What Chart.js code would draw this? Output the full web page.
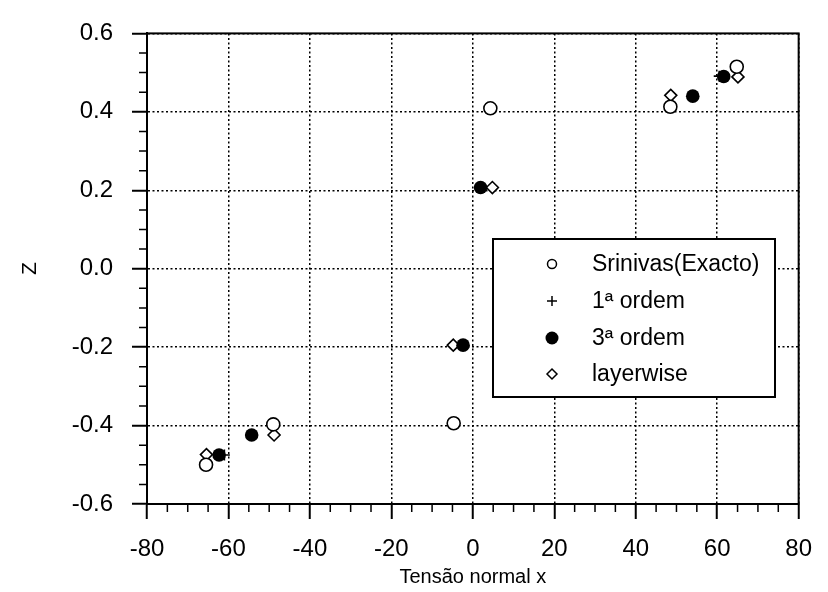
<!DOCTYPE html>
<html>
<head>
<meta charset="utf-8">
<script src="https://cdn.jsdelivr.net/npm/chart.js@4.4.0/dist/chart.umd.min.js"></script>
<style>
  html, body { margin: 0; padding: 0; background: #fff; }
  #wrap { width: 828px; height: 592px; }
</style>
</head>
<body>
<div id="wrap"><canvas id="myChart" width="828" height="592"></canvas></div>
<script>
// Values (x = tensão normal, y = Z)
const srinivasX = [-65.5, -49, -4.7, 4.3, 48.5, 64.8];
const srinivasY = [-0.50, -0.397, -0.394, 0.409, 0.413, 0.515];
const ordem1X = [-61, -54.3, -2.4, 1.9, 54, 60.5];
const ordem1Y = [-0.475, -0.424, -0.195, 0.207, 0.44, 0.491];
const ordem3X = [-62.3, -54.3, -2.4, 1.9, 54, 61.6];
const ordem3Y = [-0.475, -0.424, -0.195, 0.207, 0.44, 0.49];
const layerX = [-65.4, -48.8, -4.8, 4.8, 48.6, 65.1];
const layerY = [-0.474, -0.424, -0.195, 0.207, 0.442, 0.489];

const xTicks = [-80, -60, -40, -20, 0, 20, 40, 60, 80];
const yTicks = [-0.6, -0.4, -0.2, 0.0, 0.2, 0.4, 0.6];

const labels = ['Srinivas(Exacto)', '1ª ordem', '3ª ordem', 'layerwise'];

const FONT = '"Liberation Sans", Arial, Helvetica, sans-serif';

function pts(xs, ys) {
  return xs.map((x, i) => ({ x: x, y: ys[i] }));
}

// frame, minor ticks and the boxed legend
const extras = {
  id: 'extras',
  afterDraw(chart) {
    const ctx = chart.ctx;
    const a = chart.chartArea;
    const xs = chart.scales.x, ys = chart.scales.y;
    ctx.save();
    ctx.strokeStyle = '#000';
    ctx.lineWidth = 2;
    ctx.strokeRect(a.left, a.top, a.right - a.left, a.bottom - a.top);

    ctx.lineWidth = 1.5;
    ctx.beginPath();
    for (let v = -75; v < 80; v += 5) {
      if (v % 20 === 0) continue;
      const px = xs.getPixelForValue(v);
      ctx.moveTo(px, a.bottom);
      ctx.lineTo(px, a.bottom + 8);
    }
    for (let k = -11; k <= 11; k++) {
      if (k % 4 === 0) continue;
      const py = ys.getPixelForValue(k * 0.05);
      ctx.moveTo(a.left - 8, py);
      ctx.lineTo(a.left, py);
    }
    ctx.stroke();

    // legend box
    const box = { left: 493, top: 239, right: 775, bottom: 397 };
    ctx.fillStyle = '#fff';
    ctx.fillRect(box.left, box.top, box.right - box.left, box.bottom - box.top);
    ctx.lineWidth = 2;
    ctx.strokeRect(box.left, box.top, box.right - box.left, box.bottom - box.top);

    const mx = 552, tx = 592;
    const rows = [264, 301, 338, 374];
    ctx.font = '23px ' + FONT;
    ctx.textBaseline = 'middle';
    ctx.textAlign = 'left';
    rows.forEach((ry, i) => {
      ctx.lineWidth = 1.5;
      ctx.strokeStyle = '#000';
      ctx.fillStyle = '#000';
      ctx.beginPath();
      if (i === 0) {
        ctx.arc(mx, ry, 4.5, 0, Math.PI * 2);
        ctx.fillStyle = '#fff';
        ctx.fill();
        ctx.stroke();
      } else if (i === 1) {
        ctx.moveTo(mx - 5, ry); ctx.lineTo(mx + 5, ry);
        ctx.moveTo(mx, ry - 5); ctx.lineTo(mx, ry + 5);
        ctx.stroke();
      } else if (i === 2) {
        ctx.arc(mx, ry, 6.5, 0, Math.PI * 2);
        ctx.fill();
      } else {
        ctx.moveTo(mx - 5, ry); ctx.lineTo(mx, ry - 5);
        ctx.lineTo(mx + 5, ry); ctx.lineTo(mx, ry + 5);
        ctx.closePath();
        ctx.fillStyle = '#fff';
        ctx.fill();
        ctx.stroke();
      }
      ctx.fillStyle = '#000';
      ctx.fillText(labels[i], tx, ry + 1);
    });
    ctx.restore();
  }
};

const ctx = document.getElementById('myChart').getContext('2d');
const chart = new Chart(ctx, {
  type: 'scatter',
  data: {
    datasets: [
      {
        label: labels[0],
        data: pts(srinivasX, srinivasY),
        pointStyle: 'circle',
        pointRadius: 6.5,
        backgroundColor: '#fff',
        borderColor: '#000',
        borderWidth: 1.6,
        order: 0
      },
      {
        label: labels[1],
        data: pts(ordem1X, ordem1Y),
        pointStyle: 'cross',
        pointRadius: 5.5,
        borderColor: '#000',
        borderWidth: 1.6,
        order: 4
      },
      {
        label: labels[2],
        data: pts(ordem3X, ordem3Y),
        pointStyle: 'circle',
        pointRadius: 6.8,
        backgroundColor: '#000',
        borderColor: '#000',
        borderWidth: 0,
        order: 1
      },
      {
        label: labels[3],
        data: pts(layerX, layerY),
        pointStyle: 'rectRot',
        pointRadius: 6,
        backgroundColor: '#fff',
        borderColor: '#000',
        borderWidth: 1.6,
        order: 2
      }
    ]
  },
  options: {
    responsive: false,
    animation: false,
    devicePixelRatio: 1,
    layout: { padding: { top: 20, right: 20, left: 0, bottom: 0 } },
    plugins: {
      legend: { display: false },
      tooltip: { enabled: false }
    },
    scales: {
      x: {
        type: 'linear',
        min: -80,
        max: 80,
        afterBuildTicks: (s) => { s.ticks = xTicks.map(v => ({ value: v })); },
        afterFit: (s) => { s.height = 88; },
        ticks: {
          color: '#000',
          font: { family: FONT, size: 24 },
          padding: 16,
          maxRotation: 0,
          autoSkip: false
        },
        grid: {
          color: '#000',
          lineWidth: 1.5,
          tickLength: 15,
          tickColor: '#000',
          tickWidth: 2
        },
        border: { display: true, color: '#000', width: 2, dash: [2, 2.5] },
        title: {
          display: true,
          text: 'Tensão normal x',
          color: '#000',
          font: { family: FONT, size: 20 },
          padding: { top: 0, bottom: 3 }
        }
      },
      y: {
        type: 'linear',
        min: -0.6,
        max: 0.6,
        afterBuildTicks: (s) => { s.ticks = yTicks.map(v => ({ value: v })); },
        afterFit: (s) => { s.width = 147; },
        ticks: {
          color: '#000',
          font: { family: FONT, size: 24 },
          padding: 19,
          callback: (v) => Number(v).toFixed(1)
        },
        grid: {
          color: '#000',
          lineWidth: 1.5,
          tickLength: 15,
          tickColor: '#000',
          tickWidth: 2
        },
        border: { display: true, color: '#000', width: 2, dash: [2, 2.5] },
        title: {
          display: true,
          text: 'Z',
          color: '#000',
          font: { family: FONT, size: 21 },
          padding: { top: 18, bottom: 0 }
        }
      }
    }
  },
  plugins: [extras]
});
</script>
</body>
</html>
